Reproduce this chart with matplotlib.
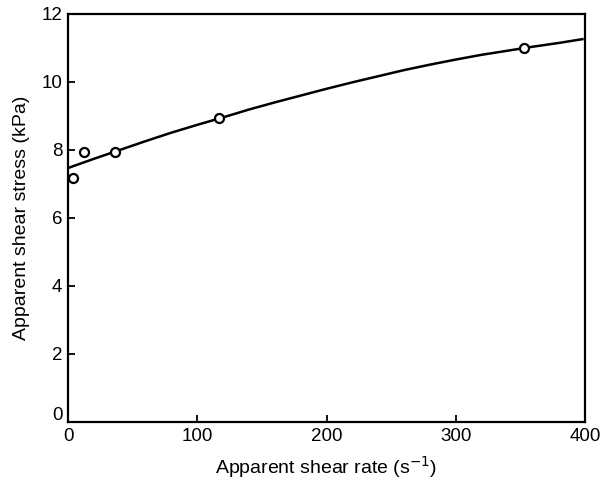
import matplotlib.pyplot as plt
import matplotlib.transforms as mtransforms

plt.rcParams["font.family"] = ["Liberation Sans", "DejaVu Sans"]

# Measured flow points
shear_rate = [4, 12, 36, 117, 353]
shear_stress = [7.18, 7.95, 7.95, 8.95, 11.0]

# Fitted flow curve
fit_rate = [0, 20, 40, 60, 80, 100, 120, 140, 160, 180, 200,
            220, 240, 260, 280, 300, 320, 340, 360, 380, 398]
fit_stress = [7.47, 7.74, 8.0, 8.26, 8.51, 8.74, 8.96, 9.19, 9.40, 9.60, 9.80,
              9.99, 10.17, 10.35, 10.51, 10.66, 10.80, 10.92, 11.04, 11.15, 11.26]

x_ticks = [0, 100, 200, 300, 400]
y_ticks = [0, 2, 4, 6, 8, 10, 12]

fig = plt.figure(figsize=(6.02, 4.84), dpi=100)
ax = fig.add_axes([68 / 602, 62 / 484, 517 / 602, 408 / 484])

ax.plot(fit_rate, fit_stress, color="black", linewidth=1.8, zorder=2)
ax.plot(shear_rate, shear_stress, linestyle="none", marker="o",
        markersize=6.5, markerfacecolor="white", markeredgecolor="black",
        markeredgewidth=1.6, zorder=3)

ax.set_xlim(0, 400)
ax.set_ylim(0, 12)
ax.set_xticks(x_ticks)
ax.set_yticks(y_ticks)
ax.tick_params(direction="in", length=5, width=1.3, labelsize=13.5,
               pad=4, top=False, right=False)
for spine in ax.spines.values():
    spine.set_linewidth(1.6)

# the zero label on the y axis sits a little above the spine
zero_label = ax.get_yticklabels()[0]
zero_label.set_transform(zero_label.get_transform()
                         + mtransforms.ScaledTranslation(0, 8 / 100, fig.dpi_scale_trans))

ax.set_xlabel("Apparent shear rate (s$^{-1}$)", fontsize=14, labelpad=7)
ax.set_ylabel("Apparent shear stress (kPa)", fontsize=14, labelpad=8)

fig.savefig("out.png", dpi=100)
